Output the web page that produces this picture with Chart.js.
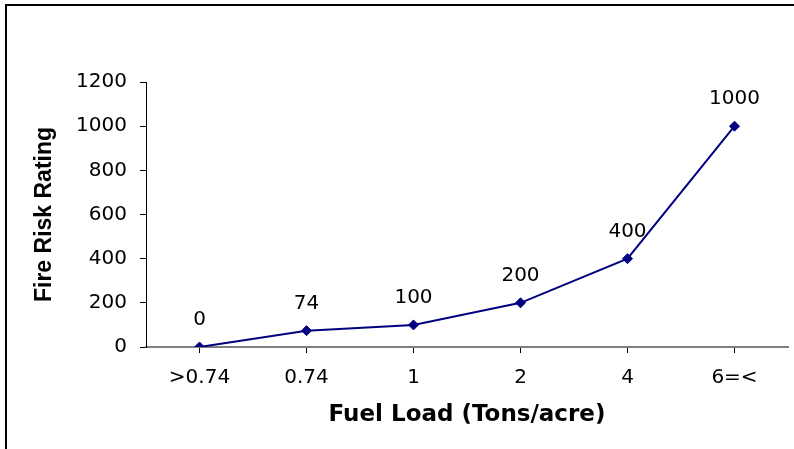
<!DOCTYPE html>
<html>
<head>
<meta charset="utf-8">
<script src="https://cdn.jsdelivr.net/npm/chart.js@4/dist/chart.umd.min.js"></script>
<style>
  html, body { margin: 0; padding: 0; background: #fff; }
  canvas { display: block; }
</style>
</head>
<body>
<canvas id="chart" width="794" height="449"></canvas>
<script>
// values
const categories = ['>0.74', '0.74', '1', '2', '4', '6=<'];
const riskRating = [0, 74, 100, 200, 400, 1000];
const yMin = 0;
const yMax = 1200;
const yStep = 200;

const lineColor = '#000080';

// white background + the cut-off frame (only left and top edges show)
const framePlugin = {
  id: 'frame',
  beforeDraw(chart) {
    const ctx = chart.ctx;
    ctx.save();
    ctx.fillStyle = '#fff';
    ctx.fillRect(0, 0, chart.width, chart.height);
    ctx.strokeStyle = '#000';
    ctx.lineWidth = 2;
    ctx.beginPath();
    ctx.moveTo(6, chart.height + 2);
    ctx.lineTo(6, 5);
    ctx.lineTo(chart.width + 2, 5);
    ctx.stroke();
    ctx.restore();
  }
};

// value labels above each point
const valueLabels = {
  id: 'valueLabels',
  afterDatasetsDraw(chart) {
    const ctx = chart.ctx;
    const meta = chart.getDatasetMeta(0);
    const data = chart.data.datasets[0].data;
    ctx.save();
    ctx.font = '20px "DejaVu Sans"';
    ctx.fillStyle = '#000';
    ctx.textAlign = 'center';
    ctx.textBaseline = 'alphabetic';
    meta.data.forEach((pt, i) => {
      ctx.fillText(String(data[i]), pt.x, pt.y - 22);
    });
    ctx.restore();
  }
};

new Chart(document.getElementById('chart'), {
  type: 'line',
  data: {
    labels: categories,
    datasets: [{
      data: riskRating,
      borderColor: lineColor,
      borderWidth: 2,
      backgroundColor: lineColor,
      pointStyle: 'rectRot',
      pointRadius: 5,
      pointBorderWidth: 1,
      pointBackgroundColor: lineColor,
      pointBorderColor: lineColor,
      tension: 0
    }]
  },
  options: {
    responsive: false,
    animation: false,
    devicePixelRatio: 1,
    layout: { padding: { top: 82, right: 5, bottom: 0, left: 0 } },
    plugins: {
      legend: { display: false },
      tooltip: { enabled: false }
    },
    scales: {
      x: {
        offset: true,
        afterFit(scale) { scale.height = 102; },
        border: { color: '#808080', width: 2 },
        grid: {
          display: true,
          drawOnChartArea: false,
          drawTicks: true,
          tickLength: 6,
          color: '#000'
        },
        ticks: {
          color: '#000',
          padding: 13,
          maxRotation: 0,
          font: { family: 'DejaVu Sans', size: 20 }
        },
        title: {
          display: true,
          text: 'Fuel Load (Tons/acre)',
          color: '#000',
          padding: { top: 0, bottom: 20 },
          font: { family: 'DejaVu Sans', size: 23, weight: 'bold' }
        }
      },
      y: {
        min: yMin,
        max: yMax,
        afterFit(scale) { scale.width = 146; },
        border: { color: '#000', width: 1 },
        grid: {
          display: true,
          drawOnChartArea: false,
          drawTicks: true,
          tickLength: 6,
          color: '#000'
        },
        ticks: {
          stepSize: yStep,
          color: '#000',
          padding: 13,
          font: { family: 'DejaVu Sans', size: 20 },
          callback: (v) => String(v)
        },
        title: {
          display: true,
          text: 'Fire Risk Rating',
          color: '#000',
          padding: { top: 31, bottom: 0 },
          font: { family: 'Liberation Sans', size: 23, weight: 'bold' }
        }
      }
    }
  },
  plugins: [framePlugin, valueLabels]
});
</script>
</body>
</html>
